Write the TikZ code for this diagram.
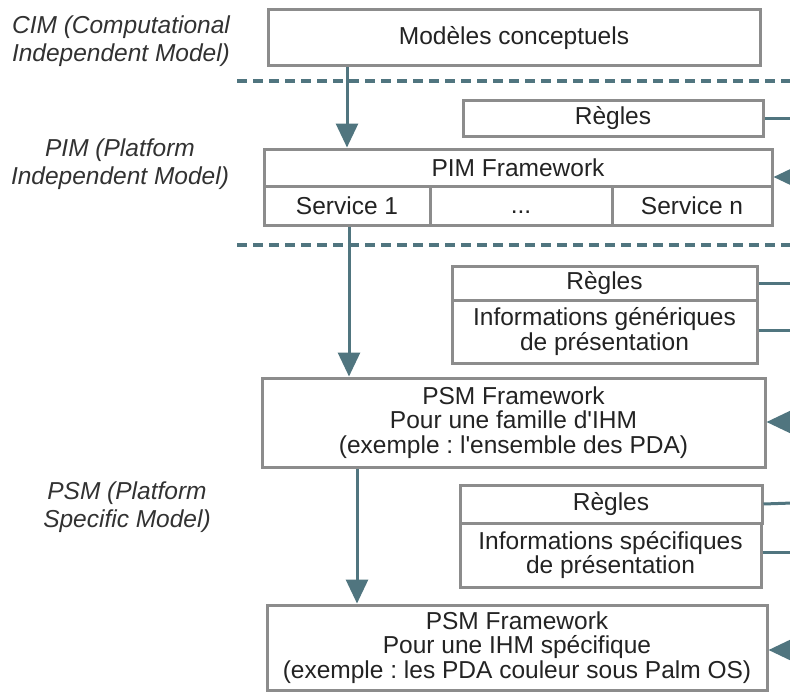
\documentclass[tikz,border=0pt]{standalone}
\usepackage{fontspec}
\setmainfont{Liberation Sans}[Ligatures=TeXOff]
\usetikzlibrary{arrows.meta}
\definecolor{teal1}{RGB}{80,117,127}
\definecolor{boxgray}{RGB}{140,140,140}
\definecolor{txt}{RGB}{35,35,35}
\definecolor{lbl}{RGB}{50,50,50}
\frenchspacing
\tikzset{
  box/.style={draw=boxgray, line width=3pt, fill=white, inner sep=0pt, align=center,
    text=txt, font=\fontsize{24.5}{24.5}\selectfont},
  lab/.style={align=center, text=lbl, inner sep=0pt, font=\fontsize{24.5}{28}\selectfont\itshape},
  conn/.style={draw=teal1, line width=3pt},
  arr/.style={conn, -{Triangle[width=22pt,length=24pt]}},
  sep/.style={draw=teal1, line width=3.2pt, dash pattern=on 10pt off 6pt}
}
\begin{document}
\begin{tikzpicture}[x=1pt, y=-1pt]
\clip (0,0) rectangle (790,693);
\fill[white] (0,0) rectangle (790,693);

% separators
\coordinate (d1a) at (237,81);  \coordinate (d1b) at (790,81);
\coordinate (d2a) at (237,245); \coordinate (d2b) at (790,245);
\draw[sep] (d1a) -- (d1b);
\draw[sep] (d2a) -- (d2b);

% left labels
\node[lab] (lcim) at (121,41) {CIM (Computational\\Independent Model)};
\node[lab] (lpim) at (120,164) {PIM (Platform\\Independent Model)};
\node[lab] (lpsm) at (127,507) {PSM (Platform\\Specific Model)};

% boxes
\node[box, minimum width=492pt, minimum height=56pt] (cim) at (514,38) {Modèles conceptuels};
\node[box, minimum width=300pt, minimum height=36pt] (r1) at (613,118) {Règles};
\node[box, minimum width=508pt, minimum height=37pt] (pimf) at (518,167.5) {PIM Framework};
\node[box, minimum width=166pt, minimum height=39pt] (s1) at (347,205.5) {Service 1};
\node[box, minimum width=182pt, minimum height=39pt] (s2) at (521,205.5) {\vphantom{S}...};
\node[box, minimum width=160pt, minimum height=39pt] (sn) at (692,205.5) {Service n};

\node[box, minimum width=305pt, minimum height=63pt] (i2) at (604.5,331.5) {Informations génériques\\de présentation};
\node[box, minimum width=305pt, minimum height=34pt] (r2) at (604.5,283) {Règles};
\node[box, minimum width=503pt, minimum height=89pt] (psm1) at (513.5,422.5) {PSM Framework\\Pour une famille d'IHM\\(exemple : l'ensemble des PDA)};

\node[box, minimum width=301pt, minimum height=64pt] (i3) at (610.5,555) {Informations spécifiques\\de présentation};
\node[box, minimum width=302pt, minimum height=38pt] (r3) at (611,504) {Règles};
\node[box, minimum width=500pt, minimum height=85pt] (psm2) at (517,647.5) {PSM Framework\\Pour une IHM spécifique\\(exemple : les PDA couleur sous Palm OS)};

% vertical arrows
\coordinate (ax1) at (347,0);
\coordinate (ax2) at (349,0);
\coordinate (ax3) at (357,0);
\draw[arr] (cim.south -| ax1) -- (pimf.north -| ax1);
\draw[arr] (s1.south -| ax2) -- (psm1.north -| ax2);
\draw[arr] (psm1.south -| ax3) -- (psm2.north -| ax3);

% right side feeds
\coordinate (e1a) at (792.5,118);
\coordinate (e1b) at (792.5,177);
\coordinate (e1c) at (805,177);
\coordinate (y1) at (0,177);
\draw[conn] (r1.east) -- (e1a) -- (e1b);
\draw[arr] (e1c) -- (pimf.east |- y1);

\coordinate (e2a) at (792,283);
\coordinate (e2b) at (792,330);
\coordinate (e2c) at (792,422);
\coordinate (e2d) at (805,422);
\coordinate (y2) at (0,330);
\coordinate (y2b) at (0,422);
\draw[conn] (r2.east) -- (e2a) -- (e2c);
\draw[conn] (i2.east |- y2) -- (e2b);
\draw[arr] (e2d) -- (psm1.east |- y2b);

\coordinate (e3a) at (792.5,503);
\coordinate (e3b) at (792.5,552);
\coordinate (e3c) at (792.5,650);
\coordinate (e3d) at (805,650);
\coordinate (y3) at (0,552);
\coordinate (y3b) at (0,650);
\draw[conn] (r3.east) -- (e3a) -- (e3c);
\draw[conn] (i3.east |- y3) -- (e3b);
\draw[arr] (e3d) -- (psm2.east |- y3b);
\end{tikzpicture}
\end{document}
